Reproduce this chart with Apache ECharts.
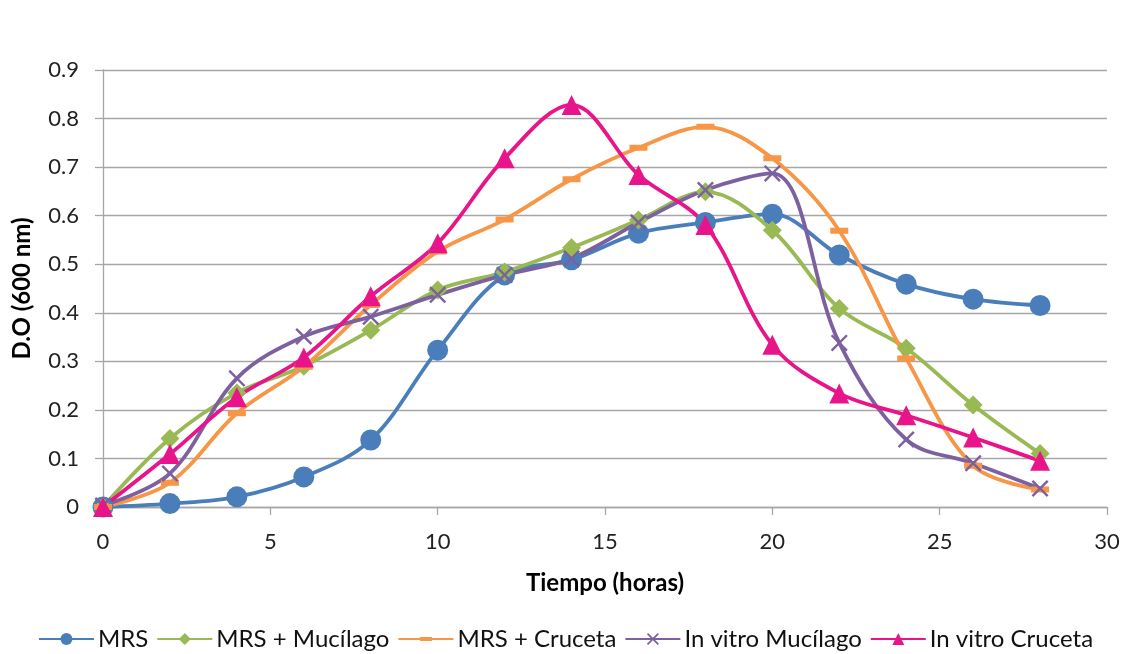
<!DOCTYPE html>
<html>
<head>
<meta charset="utf-8">
<script src="https://cdn.jsdelivr.net/npm/echarts@6/dist/echarts.min.js"></script>
<style>
  html, body { margin: 0; padding: 0; background: #fff; }
  #chart { width: 1131px; height: 654px; }
</style>
</head>
<body>
<div id="chart"></div>
<script>
// Growth curves: optical density at 600 nm over time (hours)
const hours = [0, 2, 4, 6, 8, 10, 12, 14, 16, 18, 20, 22, 24, 26, 28];

const mrs            = [0, 0.007, 0.021, 0.062, 0.138, 0.323, 0.478, 0.509, 0.564, 0.586, 0.603, 0.519, 0.459, 0.428, 0.415];
const mrsMucilago    = [0, 0.141, 0.235, 0.290, 0.364, 0.447, 0.484, 0.534, 0.591, 0.649, 0.570, 0.409, 0.327, 0.210, 0.110];
const mrsCruceta     = [0, 0.050, 0.193, 0.289, 0.416, 0.526, 0.592, 0.675, 0.740, 0.783, 0.718, 0.569, 0.306, 0.085, 0.036];
const vitroMucilago  = [0.003, 0.069, 0.265, 0.351, 0.392, 0.437, 0.478, 0.512, 0.586, 0.653, 0.687, 0.338, 0.139, 0.090, 0.038];
const vitroCruceta   = [0, 0.109, 0.226, 0.308, 0.434, 0.543, 0.718, 0.828, 0.684, 0.581, 0.334, 0.234, 0.189, 0.143, 0.095];

const seriesNames = ['MRS', 'MRS + Mucílago', 'MRS + Cruceta', 'In vitro Mucílago', 'In vitro Cruceta'];
const yTicks = [0, 0.1, 0.2, 0.3, 0.4, 0.5, 0.6, 0.7, 0.8, 0.9];
const xTicks = [0, 5, 10, 15, 20, 25, 30];

const FONT = 'Lato, "Open Sans", sans-serif';
// thin filled "x" marker
const crossPath = 'path://M0,1 L1,0 L10,9 L9,10 Z M9,0 L10,1 L1,10 L0,9 Z';
// horizontal dash centred in a square box (the zero-length segments only set the box)
const dashPath = 'path://M0,-6 L0.01,-6 M0,0 L18,0 L18,6 L0,6 Z M0,12 L0.01,12';

function pairs(values) {
  return hours.map((h, i) => [h, values[i]]);
}

function lineSeries(name, values, color, symbol, symbolSize) {
  return {
    name: name,
    type: 'line',
    data: pairs(values),
    smooth: 0.35,
    symbol: symbol,
    symbolSize: symbolSize,
    showAllSymbol: true,
    lineStyle: { color: color, width: 3.8 },
    itemStyle: { color: color, opacity: 1 },
    emphasis: { disabled: true },
    z: 2
  };
}

const chart = echarts.init(document.getElementById('chart'), null, { renderer: 'canvas' });

chart.setOption({
  animation: false,
  backgroundColor: '#ffffff',
  textStyle: { fontFamily: FONT },
  grid: { left: 103, right: 24, top: 70, bottom: 147, containLabel: false },
  legend: {
    top: 622,
    left: 'center',
    itemWidth: 55,
    itemHeight: 15,
    itemGap: 8,
    data: seriesNames,
    textStyle: { fontFamily: FONT, fontSize: 24, color: '#111', padding: [0, 0, 0, -1] }
  },
  xAxis: {
    type: 'value',
    min: 0,
    max: 30,
    interval: 5,
    name: 'Tiempo (horas)',
    nameLocation: 'middle',
    nameGap: 64,
    nameTextStyle: { fontFamily: FONT, fontSize: 24, fontWeight: 'bold', color: '#000' },
    axisLine: { show: true, lineStyle: { color: '#a6a6a6', width: 1.3 } },
    axisTick: { show: true, length: 8, lineStyle: { color: '#a6a6a6', width: 1.3 } },
    axisLabel: {
      margin: 24,
      fontSize: 22,
      color: '#222',
      fontFamily: FONT,
      formatter: v => xTicks.includes(v) ? String(v) : ''
    },
    splitLine: { show: false }
  },
  yAxis: {
    type: 'value',
    min: 0,
    max: 0.9,
    interval: 0.1,
    name: 'D.O (600 nm)',
    nameLocation: 'middle',
    nameGap: 69,
    nameRotate: 90,
    nameTextStyle: { fontFamily: FONT, fontSize: 24, fontWeight: 'bold', color: '#000' },
    axisLine: { show: true, lineStyle: { color: '#a6a6a6', width: 1.3 } },
    axisTick: { show: true, inside: false, length: 8, lineStyle: { color: '#a6a6a6', width: 1.3 } },
    axisLabel: {
      margin: 24,
      fontSize: 22,
      color: '#222',
      fontFamily: FONT,
      formatter: v => {
        const t = yTicks.find(k => Math.abs(k - v) < 1e-6);
        return t === undefined ? '' : (t === 0 ? '0' : t.toFixed(1));
      }
    },
    splitLine: { show: true, lineStyle: { color: '#a6a6a6', width: 1.3 } }
  },
  series: [
    lineSeries(seriesNames[0], mrs, '#4a7ebb', 'circle', 21),
    lineSeries(seriesNames[1], mrsMucilago, '#98b954', 'diamond', 19),
    lineSeries(seriesNames[2], mrsCruceta, '#f79646', dashPath, 18),
    lineSeries(seriesNames[3], vitroMucilago, '#7d60a0', crossPath, 17),
    lineSeries(seriesNames[4], vitroCruceta, '#e8158a', 'triangle', 20)
  ]
});
</script>
</body>
</html>
